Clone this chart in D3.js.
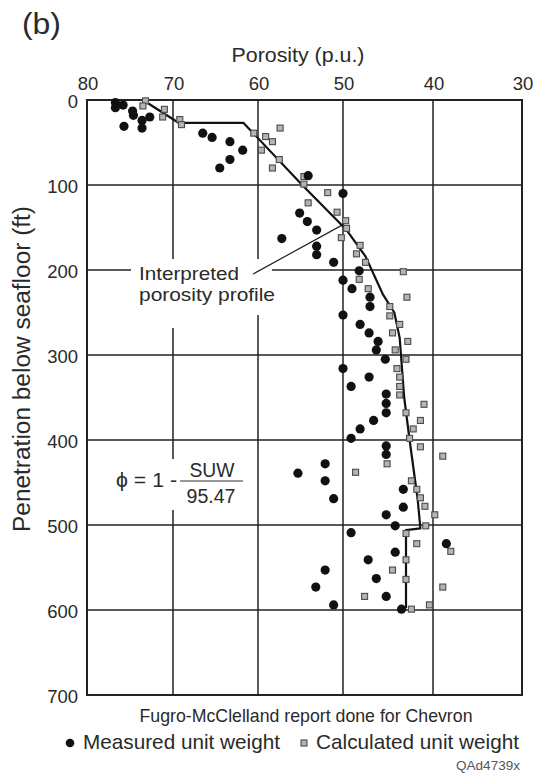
<!DOCTYPE html>
<html><head><meta charset="utf-8">
<script src="https://cdn.jsdelivr.net/npm/d3@7"></script>
<style>body{margin:0;background:#fff}svg{display:block}text{font-family:"Liberation Sans",Arial,sans-serif;fill:#2a2a2a}</style>
</head><body>
<svg id="c" width="539" height="779"></svg>
<script>
// ---- data ----
const xTicks = [80, 70, 60, 50, 40, 30];
const yTicks = [0, 100, 200, 300, 400, 500, 600, 700];

// Measured unit weight: porosity (p.u.) and depth (ft)
const measuredPorosity = [76.7,76.7,75.8,74.7,74.6,73.6,72.7,75.7,73.6,66.5,65.4,63.3,61.8,63.3,64.5,54.1,
  50.0,55.1,54.2,53.1,57.2,53.1,53.1,51.1,48.2,50.0,49.0,47.0,47.0,50.0,48.1,47.1,46.1,46.3,45.3,50.0,47.1,49.1,
  45.2,45.2,45.2,46.6,48.1,49.1,45.2,45.2,52.1,55.3,52.1,43.3,51.1,43.3,45.2,44.2,49.1,38.5,44.2,47.2,52.1,46.3,
  53.2,45.2,51.1,43.5];
const measuredDepth = [3,9,6,13,18,24,20,31,33,39,44,49,59,70,80,89,
  110,133,143,153,163,172,182,191,201,212,222,232,243,253,264,274,284,294,305,316,326,337,
  346,357,368,377,387,398,407,417,428,439,448,458,469,479,488,501,509,522,532,541,553,563,
  573,584,594,599];

// Calculated unit weight: porosity (p.u.) and depth (ft)
const calculatedPorosity = [73.2,73.5,71.0,71.2,69.2,69.0,60.5,59.1,58.3,57.4,59.6,57.5,58.3,54.6,54.6,
  51.8,54.1,50.7,49.7,49.6,50.2,48.1,48.5,47.5,43.3,48.2,47.2,42.9,44.8,44.8,43.7,44.5,42.8,44.2,43.0,44.0,
  43.7,43.7,43.7,41.0,43.0,41.4,42.2,42.6,41.4,38.9,45.1,48.6,42.4,41.8,41.4,40.9,39.8,40.8,43.0,41.8,38.0,
  43.0,44.5,43.0,38.9,47.6,40.4,42.4];
const calculatedDepth = [1,7,11,20,23,29,39,43,49,33,59,70,80,90,99,
  109,121,132,142,151,162,171,181,191,202,211,222,232,243,254,264,274,284,294,305,316,
  326,337,347,358,368,377,387,398,408,419,428,438,448,458,468,478,488,501,510,522,531,
  541,553,564,573,584,594,599];

// Interpreted porosity profile
const profilePorosity = [73.5,69.3,61.7,54.8,49.6,47.5,45.6,44.3,43.7,43.2,42.6,41.7,41.4,43.0,43.0];
const profileDepth    = [0,27,27,100,153,184,228,250,280,350,400,470,504,506,598];

// ---- layout ----
const svg = d3.select("#c");
const x = d3.scaleLinear().domain(xTicks).range([87,173,258,343,433,522]);
const y = d3.scaleLinear().domain([0,700]).range([100,695]);
const X0 = x(80), X1 = x(30), Y0 = y(0), Y1 = y(700);
const ink = "#222";

// gridlines
const g = svg.append("g");
g.selectAll("line.v").data(xTicks).join("line")
  .attr("x1", d=>x(d)).attr("x2", d=>x(d)).attr("y1", Y0).attr("y2", Y1)
  .attr("stroke", ink).attr("stroke-width", 1.5);
g.selectAll("line.h").data(yTicks).join("line")
  .attr("x1", X0).attr("x2", X1).attr("y1", d=>y(d)).attr("y2", d=>y(d))
  .attr("stroke", ink).attr("stroke-width", 1.5);
g.append("rect").attr("x", X0).attr("y", Y0).attr("width", X1-X0).attr("height", Y1-Y0)
  .attr("fill","none").attr("stroke", ink).attr("stroke-width", 2);

// tick labels
svg.selectAll("text.xt").data(xTicks).join("text")
  .attr("x", d=>x(d)+1).attr("y", 90).attr("text-anchor","middle")
  .attr("font-size", 18.5).text(d=>d);
svg.selectAll("text.yt").data(yTicks).join("text")
  .attr("x", 78).attr("y", d=>y(d)+8).attr("text-anchor","end")
  .attr("font-size", 18.5).text(d=>d);

// titles
svg.append("text").attr("x", 22).attr("y", 34).attr("font-size", 30)
  .attr("textLength", 39).attr("lengthAdjust","spacingAndGlyphs").text("(b)");
svg.append("text").attr("x", 298).attr("y", 62).attr("text-anchor","middle").attr("font-size", 21)
  .attr("textLength", 133).attr("lengthAdjust","spacingAndGlyphs").text("Porosity (p.u.)");
svg.append("text").attr("transform","translate(30,369) rotate(-90)").attr("text-anchor","middle")
  .attr("font-size", 23).attr("textLength", 326).attr("lengthAdjust","spacingAndGlyphs")
  .text("Penetration below seafloor (ft)");

// annotation knockouts
svg.append("rect").attr("x",131).attr("y",259).attr("width",141).attr("height",56).attr("fill","#fff");
svg.append("rect").attr("x",160).attr("y",312).attr("width",20).attr("height",16).attr("fill","#fff");
svg.append("rect").attr("x",108).attr("y",459).attr("width",142).attr("height",51).attr("fill","#fff");

// interpreted label
svg.append("text").attr("x", 139).attr("y", 280).attr("font-size", 18.5)
  .attr("textLength", 100).attr("lengthAdjust","spacingAndGlyphs").text("Interpreted");
svg.append("text").attr("x", 139).attr("y", 301).attr("font-size", 18.5)
  .attr("textLength", 136).attr("lengthAdjust","spacingAndGlyphs").text("porosity profile");
svg.append("line").attr("x1", 253).attr("y1", 274).attr("x2", x(49.9)).attr("y2", y(146))
  .attr("stroke", ink).attr("stroke-width", 1.2);

// formula
svg.append("text").attr("x", 116).attr("y", 487).attr("font-size", 19.5)
  .attr("textLength", 61).attr("lengthAdjust","spacingAndGlyphs").text("\u03D5 = 1 -");
svg.append("text").attr("x", 212).attr("y", 477).attr("text-anchor","middle").attr("font-size", 19.5)
  .attr("textLength", 45).attr("lengthAdjust","spacingAndGlyphs").text("SUW");
svg.append("line").attr("x1",180).attr("x2",243).attr("y1",481).attr("y2",481).attr("stroke","#333").attr("stroke-width",1.2);
svg.append("text").attr("x", 211).attr("y", 503).attr("text-anchor","middle").attr("font-size", 19.5)
  .attr("textLength", 49).attr("lengthAdjust","spacingAndGlyphs").text("95.47");

// profile line
const line = d3.line().x((d,i)=>x(profilePorosity[i])).y((d,i)=>y(profileDepth[i]));
svg.append("path").attr("d", line(profileDepth)).attr("fill","none")
  .attr("stroke", "#111").attr("stroke-width", 2.2).attr("stroke-linejoin","round");

// calculated squares
const S = 6;
svg.selectAll("rect.calc").data(calculatedDepth).join("rect")
  .attr("x", (d,i)=>x(calculatedPorosity[i])-S/2).attr("y", d=>y(d)-S/2)
  .attr("width", S).attr("height", S)
  .attr("fill", "#b4b4b4").attr("stroke", "#4a4a4a").attr("stroke-width", 1.1);

// measured circles
svg.selectAll("circle.meas").data(measuredDepth).join("circle")
  .attr("cx", (d,i)=>x(measuredPorosity[i])).attr("cy", d=>y(d)).attr("r", 4.6)
  .attr("fill", "#111");

// footer
svg.append("text").attr("x", 306).attr("y", 722).attr("text-anchor","middle").attr("font-size", 17.7)
  .attr("textLength", 333).attr("lengthAdjust","spacingAndGlyphs").text("Fugro-McClelland report done for Chevron");
svg.append("circle").attr("cx", 70).attr("cy", 743).attr("r", 4.3).attr("fill","#111");
svg.append("text").attr("x", 83).attr("y", 749).attr("font-size", 21)
  .attr("textLength", 197).attr("lengthAdjust","spacingAndGlyphs").text("Measured unit weight");
svg.append("rect").attr("x", 301).attr("y", 740).attr("width", S).attr("height", S)
  .attr("fill", "#b4b4b4").attr("stroke", "#4a4a4a").attr("stroke-width", 1.1);
svg.append("text").attr("x", 316).attr("y", 749).attr("font-size", 21)
  .attr("textLength", 203).attr("lengthAdjust","spacingAndGlyphs").text("Calculated unit weight");
svg.append("text").attr("x", 520).attr("y", 770).attr("text-anchor","end").attr("font-size", 13.5)
  .style("fill","#555")
  .attr("textLength", 64).attr("lengthAdjust","spacingAndGlyphs").text("QAd4739x");
</script>
</body></html>
